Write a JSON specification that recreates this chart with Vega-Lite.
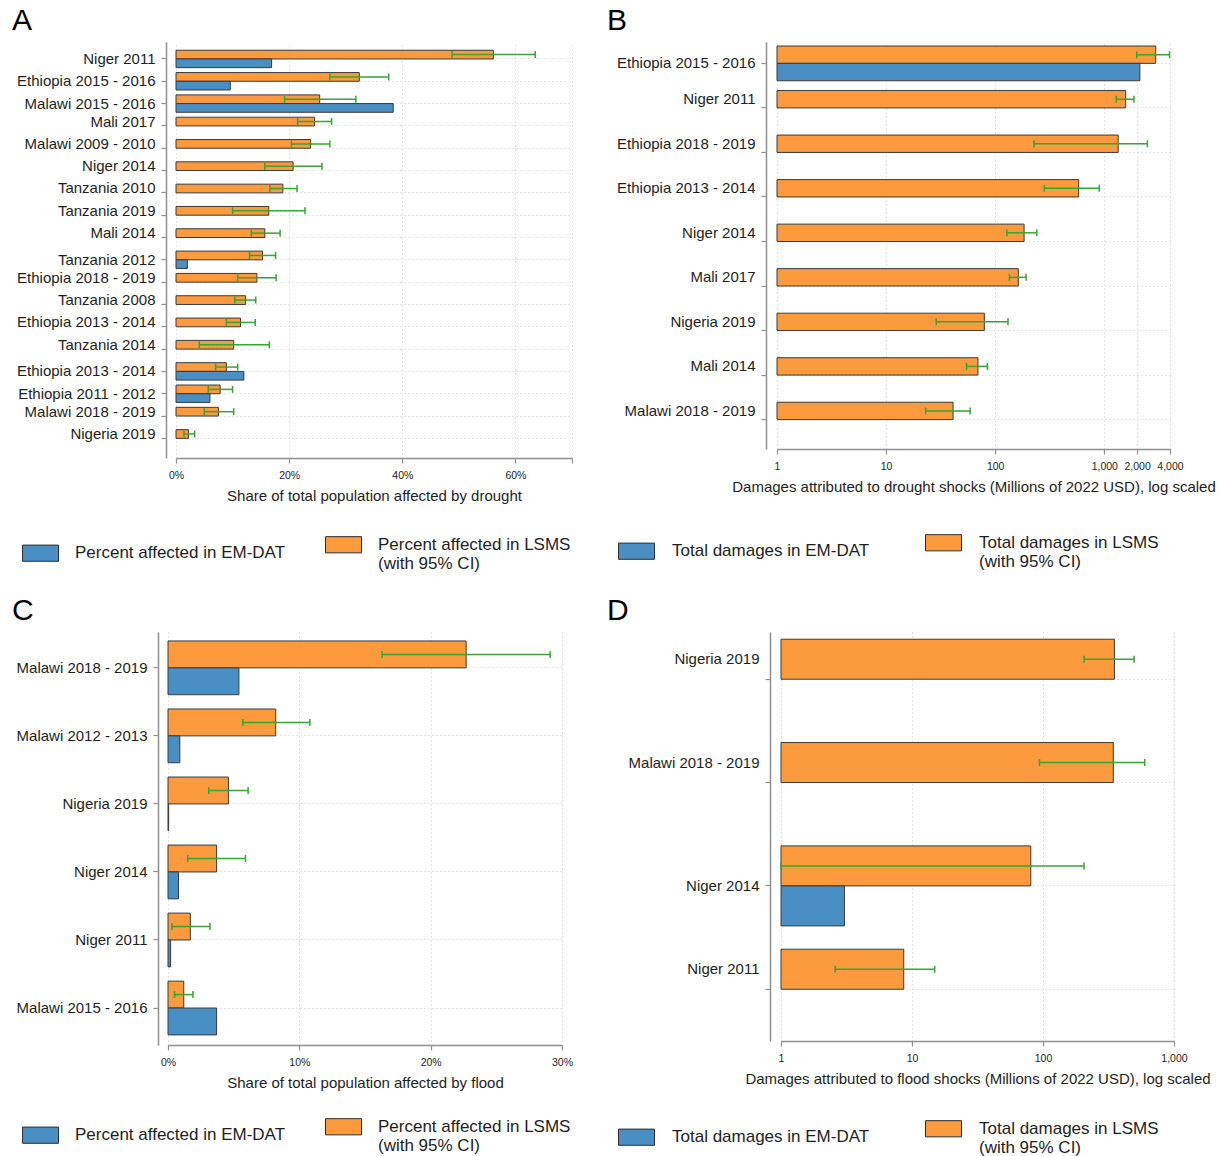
{
  "$schema": "https://vega.github.io/schema/vega-lite/v6.json",
  "padding": {"left": 12, "top": 6, "right": 0, "bottom": 0},
  "config": {
    "font": "Liberation Sans, Arial, sans-serif",
    "view": {"stroke": null},
    "axis": {
      "domainColor": "#8f8f8f",
      "domainWidth": 1.5,
      "tickColor": "#8f8f8f",
      "tickWidth": 1.2,
      "tickSize": 5,
      "gridColor": "#c8c8c8",
      "gridDash": [1, 3],
      "gridWidth": 1,
      "labelColor": "#1e1e1e",
      "titleColor": "#1e1e1e",
      "titleFontWeight": "normal",
      "labelFlush": false,
      "labelOverlap": false
    },
    "axisX": {"labelFontSize": 10.5, "labelPadding": 7, "titleFontSize": 15, "titlePadding": 8},
    "axisY": {"labelFontSize": 15, "labelPadding": 6, "tickBand": "center"},
    "title": {"fontSize": 30, "fontWeight": "normal", "anchor": "start", "frame": "group", "baseline": "alphabetic", "offset": 6, "color": "#000000"},
    "legend": {
      "orient": "none",
      "direction": "horizontal",
      "title": null,
      "padding": 0,
      "symbolType": "M-1,-0.45H1V0.45H-1Z",
      "symbolSize": 1296,
      "symbolStrokeColor": "#2e2e2e",
      "symbolStrokeWidth": 1,
      "symbolOpacity": 1,
      "labelFontSize": 17,
      "labelColor": "#1e1e1e",
      "labelOffset": 16,
      "labelLimit": 400,
      "columnPadding": 37
    }
  },
  "datasets": {
    "drought_share": [
      {"label": "Niger 2011", "source": "LSMS", "value": 0.561, "lo": 0.488, "hi": 0.635},
      {"label": "Niger 2011", "source": "EM-DAT", "value": 0.169},
      {"label": "Ethiopia 2015 - 2016", "source": "LSMS", "value": 0.324, "lo": 0.272, "hi": 0.376},
      {"label": "Ethiopia 2015 - 2016", "source": "EM-DAT", "value": 0.096},
      {"label": "Malawi 2015 - 2016", "source": "LSMS", "value": 0.254, "lo": 0.192, "hi": 0.318},
      {"label": "Malawi 2015 - 2016", "source": "EM-DAT", "value": 0.384},
      {"label": "Mali 2017", "source": "LSMS", "value": 0.245, "lo": 0.215, "hi": 0.275},
      {"label": "Malawi 2009 - 2010", "source": "LSMS", "value": 0.238, "lo": 0.204, "hi": 0.272},
      {"label": "Niger 2014", "source": "LSMS", "value": 0.207, "lo": 0.157, "hi": 0.258},
      {"label": "Tanzania 2010", "source": "LSMS", "value": 0.189, "lo": 0.166, "hi": 0.214},
      {"label": "Tanzania 2019", "source": "LSMS", "value": 0.164, "lo": 0.100, "hi": 0.228},
      {"label": "Mali 2014", "source": "LSMS", "value": 0.157, "lo": 0.133, "hi": 0.184},
      {"label": "Tanzania 2012", "source": "LSMS", "value": 0.153, "lo": 0.130, "hi": 0.176},
      {"label": "Tanzania 2012", "source": "EM-DAT", "value": 0.020},
      {"label": "Ethiopia 2018 - 2019", "source": "LSMS", "value": 0.143, "lo": 0.109, "hi": 0.177},
      {"label": "Tanzania 2008", "source": "LSMS", "value": 0.123, "lo": 0.104, "hi": 0.141},
      {"label": "Ethiopia 2013 - 2014", "source": "LSMS", "value": 0.114, "lo": 0.089, "hi": 0.140},
      {"label": "Tanzania 2014", "source": "LSMS", "value": 0.102, "lo": 0.041, "hi": 0.165},
      {"label": "Ethiopia 2013 - 2014\u200b", "source": "LSMS", "value": 0.089, "lo": 0.070, "hi": 0.109},
      {"label": "Ethiopia 2013 - 2014\u200b", "source": "EM-DAT", "value": 0.120},
      {"label": "Ethiopia 2011 - 2012", "source": "LSMS", "value": 0.078, "lo": 0.057, "hi": 0.100},
      {"label": "Ethiopia 2011 - 2012", "source": "EM-DAT", "value": 0.060},
      {"label": "Malawi 2018 - 2019", "source": "LSMS", "value": 0.075, "lo": 0.050, "hi": 0.102},
      {"label": "Nigeria 2019", "source": "LSMS", "value": 0.022, "lo": 0.014, "hi": 0.033}
    ],
    "drought_damage": [
      {"label": "Ethiopia 2015 - 2016", "source": "LSMS", "value": 2958, "lo": 1983, "hi": 3960},
      {"label": "Ethiopia 2015 - 2016", "source": "EM-DAT", "value": 2118},
      {"label": "Niger 2011", "source": "LSMS", "value": 1570, "lo": 1285, "hi": 1870},
      {"label": "Ethiopia 2018 - 2019", "source": "LSMS", "value": 1340, "lo": 227, "hi": 2483},
      {"label": "Ethiopia 2013 - 2014", "source": "LSMS", "value": 582, "lo": 282, "hi": 898},
      {"label": "Niger 2014", "source": "LSMS", "value": 184, "lo": 128, "hi": 241},
      {"label": "Mali 2017", "source": "LSMS", "value": 163, "lo": 135, "hi": 192},
      {"label": "Nigeria 2019", "source": "LSMS", "value": 79.5, "lo": 28.8, "hi": 131},
      {"label": "Mali 2014", "source": "LSMS", "value": 69.5, "lo": 54.6, "hi": 84.9},
      {"label": "Malawi 2018 - 2019", "source": "LSMS", "value": 41.1, "lo": 23.0, "hi": 58.9}
    ],
    "flood_share": [
      {"label": "Malawi 2018 - 2019", "source": "LSMS", "value": 0.227, "lo": 0.163, "hi": 0.291},
      {"label": "Malawi 2018 - 2019", "source": "EM-DAT", "value": 0.054},
      {"label": "Malawi 2012 - 2013", "source": "LSMS", "value": 0.082, "lo": 0.057, "hi": 0.108},
      {"label": "Malawi 2012 - 2013", "source": "EM-DAT", "value": 0.009},
      {"label": "Nigeria 2019", "source": "LSMS", "value": 0.046, "lo": 0.031, "hi": 0.061},
      {"label": "Nigeria 2019", "source": "EM-DAT", "value": 0.0005},
      {"label": "Niger 2014", "source": "LSMS", "value": 0.037, "lo": 0.015, "hi": 0.059},
      {"label": "Niger 2014", "source": "EM-DAT", "value": 0.008},
      {"label": "Niger 2011", "source": "LSMS", "value": 0.017, "lo": 0.003, "hi": 0.032},
      {"label": "Niger 2011", "source": "EM-DAT", "value": 0.002},
      {"label": "Malawi 2015 - 2016", "source": "LSMS", "value": 0.012, "lo": 0.005, "hi": 0.019},
      {"label": "Malawi 2015 - 2016", "source": "EM-DAT", "value": 0.037}
    ],
    "flood_damage": [
      {"label": "Nigeria 2019", "source": "LSMS", "value": 351, "lo": 206, "hi": 496},
      {"label": "Malawi 2018 - 2019", "source": "LSMS", "value": 344, "lo": 94, "hi": 598},
      {"label": "Niger 2014", "source": "LSMS", "value": 80.7, "lo": 1, "hi": 206},
      {"label": "Niger 2014", "source": "EM-DAT", "value": 3.05},
      {"label": "Niger 2011", "source": "LSMS", "value": 8.65, "lo": 2.59, "hi": 14.9}
    ]
  },
  "columns": 2,
  "bounds": "flush",
  "spacing": {"row": 174, "column": 205},
  "concat": [
    {
      "width": 404,
      "height": 416,
      "title": {"text": "A", "dx": -156},
      "data": {"name": "drought_share"},
      "layer": [
        {
          "mark": {"type": "bar", "stroke": "#3a3a3a", "strokeWidth": 1},
          "encoding": {
            "y": {
              "field": "label", "type": "nominal",
              "sort": ["Niger 2011", "Ethiopia 2015 - 2016", "Malawi 2015 - 2016", "Mali 2017", "Malawi 2009 - 2010", "Niger 2014", "Tanzania 2010", "Tanzania 2019", "Mali 2014", "Tanzania 2012", "Ethiopia 2018 - 2019", "Tanzania 2008", "Ethiopia 2013 - 2014", "Tanzania 2014", "Ethiopia 2013 - 2014\u200b", "Ethiopia 2011 - 2012", "Malawi 2018 - 2019", "Nigeria 2019"],
              "scale": {"paddingInner": 0.22, "paddingOuter": 0.43, "align": 0.43},
              "axis": {
                "title": null, "grid": true, "offset": 2,
                "labelOffset": {"condition": {"test": "indexof(['Niger 2011', 'Ethiopia 2015 - 2016', 'Malawi 2015 - 2016', 'Tanzania 2012', 'Ethiopia 2013 - 2014\u200b', 'Ethiopia 2011 - 2012'], datum.value) < 0", "value": -4.4}, "value": 0}
              }
            },
            "yOffset": {"field": "source", "type": "nominal", "scale": {"domain": ["LSMS", "EM-DAT"]}},
            "x": {
              "field": "value", "type": "quantitative",
              "scale": {"domain": [0, 0.7], "range": [8, 404]},
              "axis": {"title": "Share of total population affected by drought", "values": [0, 0.2, 0.4, 0.6, 0.7], "labelExpr": "datum.value > 0.65 ? '' : format(datum.value, '.0%')", "grid": true}
            },
            "color": {
              "field": "source", "type": "nominal",
              "scale": {"domain": ["EM-DAT", "LSMS"], "range": ["#4a8fc4", "#fd9a3e"]},
              "legend": {"legendX": -146, "legendY": 484, "labelExpr": "datum.label == 'LSMS' ? ['Percent affected in LSMS', '(with 95% CI)'] : 'Percent affected in EM-DAT'"}
            }
          }
        },
        {
          "transform": [{"filter": "datum.source == 'LSMS'"}],
          "mark": {"type": "rule", "color": "#35a535", "strokeWidth": 1.5},
          "encoding": {
            "y": {"field": "label", "type": "nominal", "bandPosition": 0.25,
              "sort": ["Niger 2011", "Ethiopia 2015 - 2016", "Malawi 2015 - 2016", "Mali 2017", "Malawi 2009 - 2010", "Niger 2014", "Tanzania 2010", "Tanzania 2019", "Mali 2014", "Tanzania 2012", "Ethiopia 2018 - 2019", "Tanzania 2008", "Ethiopia 2013 - 2014", "Tanzania 2014", "Ethiopia 2013 - 2014\u200b", "Ethiopia 2011 - 2012", "Malawi 2018 - 2019", "Nigeria 2019"]},
            "x": {"field": "lo", "type": "quantitative", "title": "Share of total population affected by drought"},
            "x2": {"field": "hi"}
          }
        },
        {
          "transform": [{"filter": "datum.source == 'LSMS'"}, {"fold": ["lo", "hi"], "as": ["end", "ci"]}],
          "mark": {"type": "point", "shape": "M0,-1L0,1", "size": 49, "filled": false, "opacity": 1, "color": "#35a535", "strokeWidth": 1.5},
          "encoding": {
            "y": {"field": "label", "type": "nominal", "bandPosition": 0.25,
              "sort": ["Niger 2011", "Ethiopia 2015 - 2016", "Malawi 2015 - 2016", "Mali 2017", "Malawi 2009 - 2010", "Niger 2014", "Tanzania 2010", "Tanzania 2019", "Mali 2014", "Tanzania 2012", "Ethiopia 2018 - 2019", "Tanzania 2008", "Ethiopia 2013 - 2014", "Tanzania 2014", "Ethiopia 2013 - 2014\u200b", "Ethiopia 2011 - 2012", "Malawi 2018 - 2019", "Nigeria 2019"]},
            "x": {"field": "ci", "type": "quantitative", "title": "Share of total population affected by drought"}
          }
        }
      ]
    },
    {
      "width": 393,
      "height": 407,
      "title": {"text": "B", "dx": -170},
      "data": {"name": "drought_damage"},
      "layer": [
        {
          "mark": {"type": "bar", "stroke": "#3a3a3a", "strokeWidth": 1},
          "encoding": {
            "y": {
              "field": "label", "type": "nominal",
              "sort": ["Ethiopia 2015 - 2016", "Niger 2011", "Ethiopia 2018 - 2019", "Ethiopia 2013 - 2014", "Niger 2014", "Mali 2017", "Nigeria 2019", "Mali 2014", "Malawi 2018 - 2019"],
              "scale": {"paddingInner": 0.22, "paddingOuter": 0.18, "align": 0.25},
              "axis": {
                "title": null, "grid": true, "offset": 11,
                "labelOffset": {"condition": {"test": "datum.value != 'Ethiopia 2015 - 2016'", "value": -8.7}, "value": 0}
              }
            },
            "yOffset": {"field": "source", "type": "nominal", "scale": {"domain": ["LSMS", "EM-DAT"]}},
            "x": {
              "field": "value", "type": "quantitative",
              "scale": {"type": "log", "domain": [1, 4000], "nice": false},
              "axis": {"title": "Damages attributed to drought shocks (Millions of 2022 USD), log scaled", "values": [1, 10, 100, 1000, 2000, 4000], "format": ",", "grid": true}
            },
            "x2": {"datum": 1},
            "color": {
              "field": "source", "type": "nominal",
              "scale": {"domain": ["EM-DAT", "LSMS"], "range": ["#4a8fc4", "#fd9a3e"]},
              "legend": {"legendX": -159, "legendY": 482, "columnPadding": 53, "labelOffset": 17, "labelExpr": "datum.label == 'LSMS' ? ['Total damages in LSMS', '(with 95% CI)'] : 'Total damages in EM-DAT'"}
            }
          }
        },
        {
          "transform": [{"filter": "datum.source == 'LSMS'"}],
          "mark": {"type": "rule", "color": "#35a535", "strokeWidth": 1.5},
          "encoding": {
            "y": {"field": "label", "type": "nominal", "bandPosition": 0.25,
              "sort": ["Ethiopia 2015 - 2016", "Niger 2011", "Ethiopia 2018 - 2019", "Ethiopia 2013 - 2014", "Niger 2014", "Mali 2017", "Nigeria 2019", "Mali 2014", "Malawi 2018 - 2019"]},
            "x": {"field": "lo", "type": "quantitative", "title": "Damages attributed to drought shocks (Millions of 2022 USD), log scaled"},
            "x2": {"field": "hi"}
          }
        },
        {
          "transform": [{"filter": "datum.source == 'LSMS'"}, {"fold": ["lo", "hi"], "as": ["end", "ci"]}],
          "mark": {"type": "point", "shape": "M0,-1L0,1", "size": 49, "filled": false, "opacity": 1, "color": "#35a535", "strokeWidth": 1.5},
          "encoding": {
            "y": {"field": "label", "type": "nominal", "bandPosition": 0.25,
              "sort": ["Ethiopia 2015 - 2016", "Niger 2011", "Ethiopia 2018 - 2019", "Ethiopia 2013 - 2014", "Niger 2014", "Mali 2017", "Nigeria 2019", "Mali 2014", "Malawi 2018 - 2019"]},
            "x": {"field": "ci", "type": "quantitative", "title": "Damages attributed to drought shocks (Millions of 2022 USD), log scaled"}
          }
        }
      ]
    },
    {
      "width": 394,
      "height": 413,
      "title": {"text": "C", "dx": -156},
      "data": {"name": "flood_share"},
      "layer": [
        {
          "mark": {"type": "bar", "stroke": "#3a3a3a", "strokeWidth": 1},
          "encoding": {
            "y": {
              "field": "label", "type": "nominal",
              "sort": ["Malawi 2018 - 2019", "Malawi 2012 - 2013", "Nigeria 2019", "Niger 2014", "Niger 2011", "Malawi 2015 - 2016"],
              "scale": {"paddingInner": 0.21, "paddingOuter": 0.14, "align": 0.47},
              "axis": {"title": null, "grid": true, "offset": 10}
            },
            "yOffset": {"field": "source", "type": "nominal", "scale": {"domain": ["LSMS", "EM-DAT"]}},
            "x": {
              "field": "value", "type": "quantitative",
              "scale": {"domain": [0, 0.3]},
              "axis": {"title": "Share of total population affected by flood", "values": [0, 0.1, 0.2, 0.3], "format": ".0%", "grid": true}
            },
            "color": {
              "field": "source", "type": "nominal",
              "scale": {"domain": ["EM-DAT", "LSMS"], "range": ["#4a8fc4", "#fd9a3e"]},
              "legend": {"legendX": -146, "legendY": 476, "labelExpr": "datum.label == 'LSMS' ? ['Percent affected in LSMS', '(with 95% CI)'] : 'Percent affected in EM-DAT'"}
            }
          }
        },
        {
          "transform": [{"filter": "datum.source == 'LSMS'"}],
          "mark": {"type": "rule", "color": "#35a535", "strokeWidth": 1.5},
          "encoding": {
            "y": {"field": "label", "type": "nominal", "bandPosition": 0.25,
              "sort": ["Malawi 2018 - 2019", "Malawi 2012 - 2013", "Nigeria 2019", "Niger 2014", "Niger 2011", "Malawi 2015 - 2016"]},
            "x": {"field": "lo", "type": "quantitative", "title": "Share of total population affected by flood"},
            "x2": {"field": "hi"}
          }
        },
        {
          "transform": [{"filter": "datum.source == 'LSMS'"}, {"fold": ["lo", "hi"], "as": ["end", "ci"]}],
          "mark": {"type": "point", "shape": "M0,-1L0,1", "size": 49, "filled": false, "opacity": 1, "color": "#35a535", "strokeWidth": 1.5},
          "encoding": {
            "y": {"field": "label", "type": "nominal", "bandPosition": 0.25,
              "sort": ["Malawi 2018 - 2019", "Malawi 2012 - 2013", "Nigeria 2019", "Niger 2014", "Niger 2011", "Malawi 2015 - 2016"]},
            "x": {"field": "ci", "type": "quantitative", "title": "Share of total population affected by flood"}
          }
        }
      ]
    },
    {
      "width": 397,
      "height": 409,
      "title": {"text": "D", "dx": -170},
      "data": {"name": "flood_damage"},
      "layer": [
        {
          "mark": {"type": "bar", "stroke": "#3a3a3a", "strokeWidth": 1},
          "encoding": {
            "y": {
              "field": "label", "type": "nominal",
              "sort": ["Nigeria 2019", "Malawi 2018 - 2019", "Niger 2014", "Niger 2011"],
              "scale": {"paddingInner": 0.226, "paddingOuter": 0.092, "align": 0.38},
              "axis": {
                "title": null, "grid": true, "offset": 7,
                "labelOffset": {"condition": {"test": "datum.value != 'Niger 2014'", "value": -20}, "value": 0}
              }
            },
            "yOffset": {"field": "source", "type": "nominal", "scale": {"domain": ["LSMS", "EM-DAT"]}},
            "x": {
              "field": "value", "type": "quantitative",
              "scale": {"type": "log", "domain": [1, 1000], "nice": false, "range": [4, 397]},
              "axis": {"title": "Damages attributed to flood shocks (Millions of 2022 USD), log scaled", "values": [1, 10, 100, 1000], "format": ",", "grid": true}
            },
            "x2": {"datum": 1},
            "color": {
              "field": "source", "type": "nominal",
              "scale": {"domain": ["EM-DAT", "LSMS"], "range": ["#4a8fc4", "#fd9a3e"]},
              "legend": {"legendX": -159, "legendY": 478, "columnPadding": 53, "labelOffset": 17, "labelExpr": "datum.label == 'LSMS' ? ['Total damages in LSMS', '(with 95% CI)'] : 'Total damages in EM-DAT'"}
            }
          }
        },
        {
          "transform": [{"filter": "datum.source == 'LSMS'"}],
          "mark": {"type": "rule", "color": "#35a535", "strokeWidth": 1.5},
          "encoding": {
            "y": {"field": "label", "type": "nominal", "bandPosition": 0.25,
              "sort": ["Nigeria 2019", "Malawi 2018 - 2019", "Niger 2014", "Niger 2011"]},
            "x": {"field": "lo", "type": "quantitative", "title": "Damages attributed to flood shocks (Millions of 2022 USD), log scaled"},
            "x2": {"field": "hi"}
          }
        },
        {
          "transform": [{"filter": "datum.source == 'LSMS'"}, {"fold": ["lo", "hi"], "as": ["end", "ci"]}],
          "mark": {"type": "point", "shape": "M0,-1L0,1", "size": 49, "filled": false, "opacity": 1, "color": "#35a535", "strokeWidth": 1.5},
          "encoding": {
            "y": {"field": "label", "type": "nominal", "bandPosition": 0.25,
              "sort": ["Nigeria 2019", "Malawi 2018 - 2019", "Niger 2014", "Niger 2011"]},
            "x": {"field": "ci", "type": "quantitative", "title": "Damages attributed to flood shocks (Millions of 2022 USD), log scaled"}
          }
        }
      ]
    }
  ],
  "resolve": {"scale": {"color": "independent", "x": "independent", "y": "independent", "yOffset": "independent"}, "legend": {"color": "independent"}}
}
